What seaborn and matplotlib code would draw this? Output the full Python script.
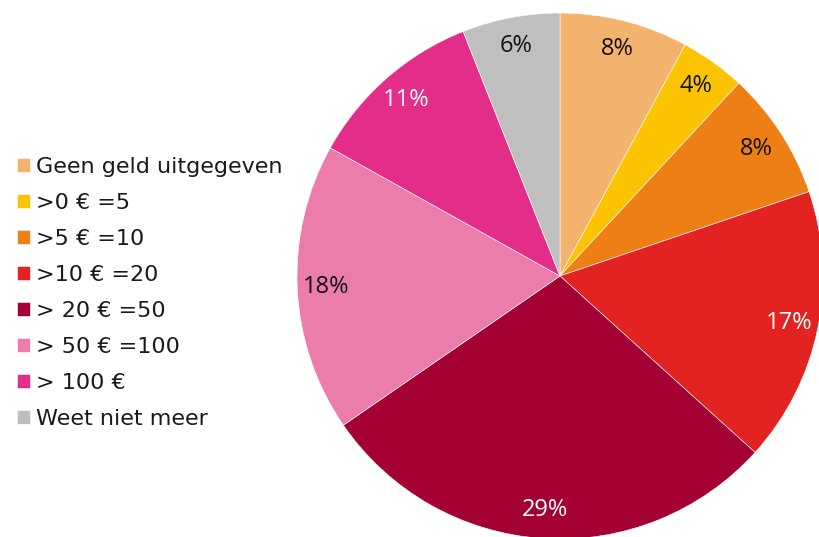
import seaborn as sns
import matplotlib.pyplot as plt

categories = ["Geen geld uitgegeven", ">0 € =5", ">5 € =10", ">10 € =20",
              "> 20 € =50", "> 50 € =100", "> 100 €", "Weet niet meer"]
shares = [7.9, 4.0, 7.9, 16.9, 28.7, 17.7, 10.9, 6.0]
colors = ["#F4B26F", "#FBC300", "#EE7F14", "#E22321",
          "#A50034", "#EB7CAC", "#E42D89", "#BFBFBF"]
label_colors = ["#111111", "#111111", "#111111", "white",
                "white", "#111111", "white", "#111111"]

if __name__ == '__main__':
    sns.set_theme(style="white")
    plt.rcParams['font.family'] = ['DejaVu Sans']

    fig = plt.figure(figsize=(8.19, 5.37), dpi=100)
    # pie centre ~ (560, 276) px, radius ~ 263 px
    ax = fig.add_axes([(560 - 263) / 819, (537 - 276 - 263) / 537, 526 / 819, 526 / 537])
    palette = sns.color_palette(colors)

    wedges, texts, autotexts = ax.pie(
        shares, colors=palette, startangle=90, counterclock=False,
        autopct='%.0f%%', pctdistance=0.89, radius=1.0,
        wedgeprops=dict(edgecolor='white', linewidth=0.4),
        textprops=dict(fontsize=17, family='Open Sans'))
    for t, c in zip(autotexts, label_colors):
        t.set_color(c)
    for w in wedges:
        w.set_clip_on(False)
    ax.set_xlim(-1, 1)
    ax.set_ylim(-1, 1)
    ax.axis('off')

    fig.legend(wedges, categories, loc='upper left', bbox_to_anchor=(0.01, 0.725),
               frameon=False, fontsize=16, handlelength=0.58, handleheight=0.58,
               handletextpad=0.28, labelspacing=0.72, borderaxespad=0,
               labelcolor='#1a1a1a')

    fig.savefig("out.png", dpi=100)
